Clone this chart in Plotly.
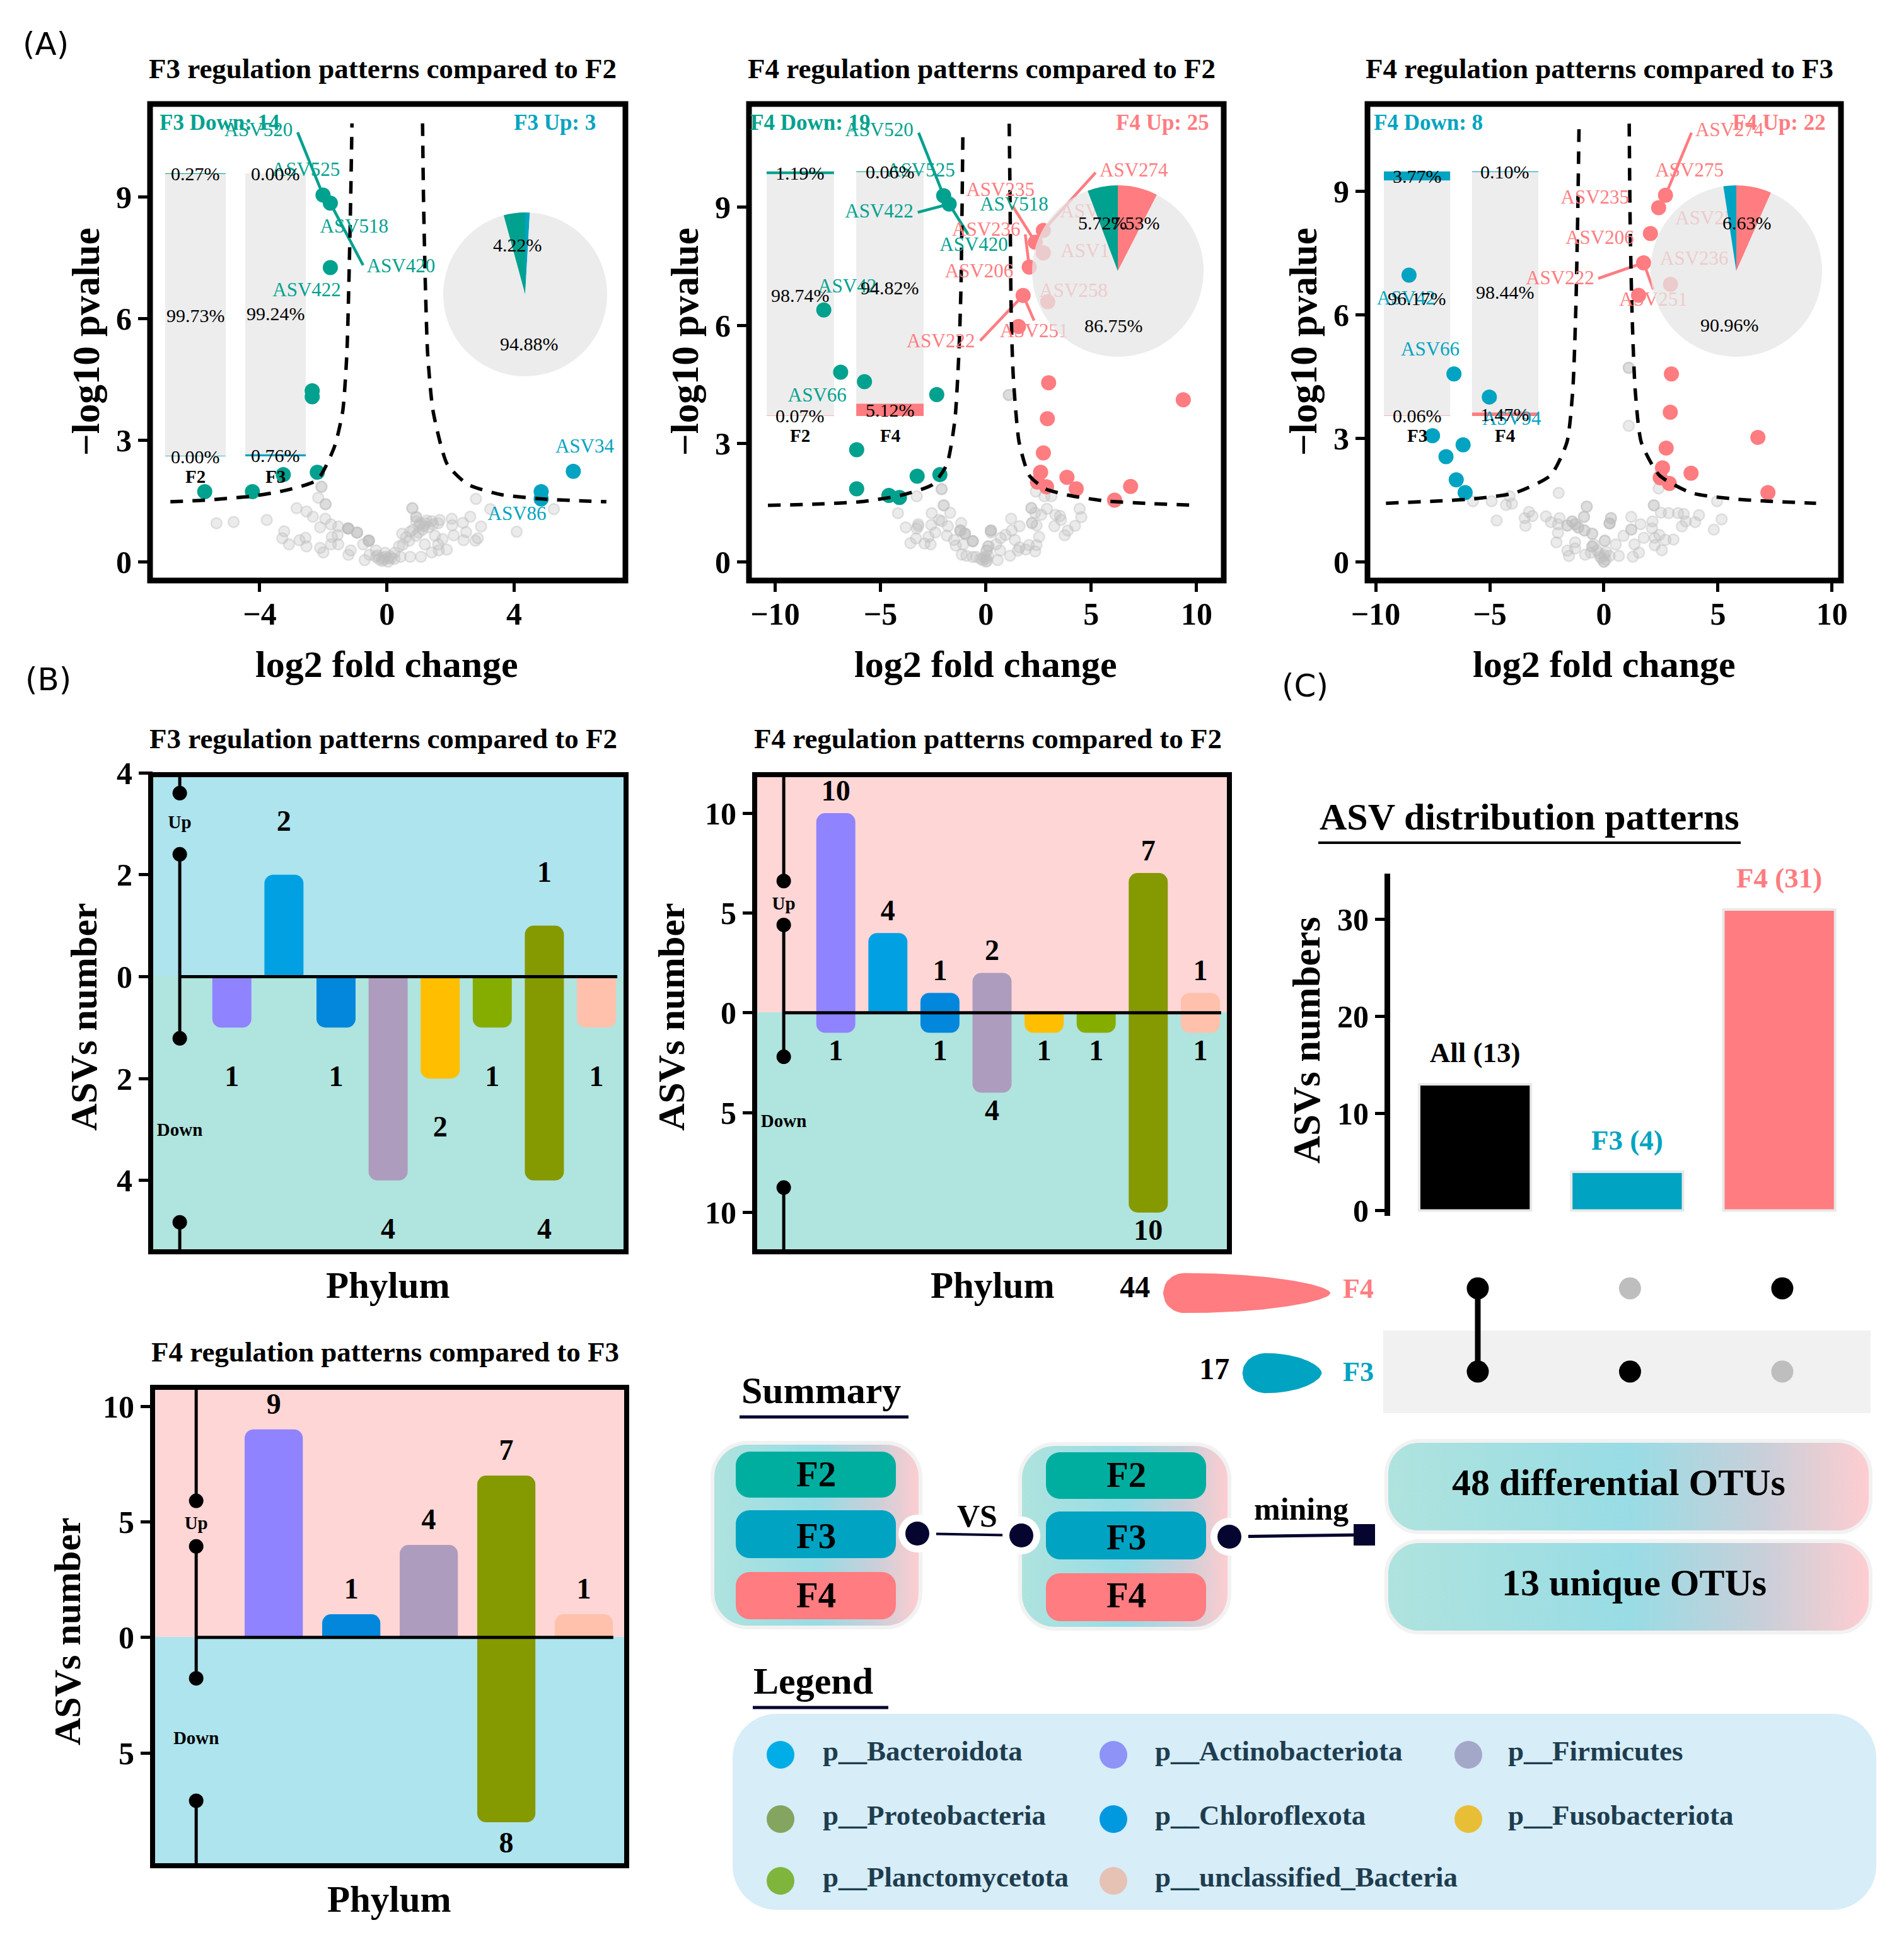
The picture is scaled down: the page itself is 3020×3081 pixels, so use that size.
"""Composite figure: volcano plots, phylum bars, ASV upset view and summary."""

import base64

import numpy as np
import plotly.graph_objects as go

W, H = 3020, 3081
SERIF = "Liberation Serif"
TEAL = "#00A18E"
BLUE = "#00A3C1"
PINK = "#FF7C80"

# ---- panel A: volcano points as (log2 fold change, -log10 pvalue) ----
F3F2_DOWN = [(-2.01, 9.05), (-1.78, 8.85), (-1.78, 7.26), (-2.35, 4.22), (-2.35, 4.07),
             (-3.26, 2.15), (-2.19, 2.21), (-5.73, 1.73), (-4.23, 1.73)]
F3F2_UP = [(5.86, 2.23), (4.85, 1.73), (4.85, 1.55)]
F3F2_NS = [(-2.06, 1.85), (-2.06, 1.85), (-2.16, 1.58), (-1.93, 1.42), (-1.93, 1.42), (-2.84, 1.32), (-2.53, 1.24),
           (-2.33, 1.11), (-3.78, 1.03), (-4.82, 0.98), (-5.36, 0.95), (-1.94, 1.06), (-1.76, 0.92),
           (-1.53, 0.87), (-2.10, 0.85), (-3.23, 0.75), (-3.29, 0.58), (-3.08, 0.43), (-2.75, 0.53),
           (-2.56, 0.59), (-2.53, 0.38), (-1.73, 0.61), (-1.55, 0.66), (-1.76, 0.43), (-1.53, 0.43),
           (-2.10, 0.34), (-2.00, 0.23), (-1.21, 0.17), (-1.14, 0.28), (-0.75, 0.43),
           (-1.22, 0.82), (-1.22, 0.82), (-1.22, 0.82), (-1.22, 0.82), (-0.94, 0.72), (-0.94, 0.72), (-0.94, 0.72),
           (-0.57, 0.52), (-0.57, 0.52), (-0.57, 0.52), (-0.57, 0.52),
           (0.80, 1.32), (0.80, 1.32), (0.92, 1.10), (0.92, 1.10), (2.80, 1.55), (3.25, 1.30), (5.25, 1.30),
           (2.62, 1.11), (2.04, 1.06), (2.39, 0.96), (2.05, 0.90), (2.96, 0.87), (4.08, 0.74), (2.49, 0.73),
           (2.10, 0.65), (2.41, 0.53), (2.86, 0.58), (2.78, 0.52), (1.75, 0.56), (1.51, 0.64), (1.61, 0.43),
           (1.88, 0.30), (1.63, 0.28), (1.41, 0.23), (1.19, 0.43), (1.07, 0.12), (0.73, 0.12), (0.43, 0.12),
           (0.24, 0.22), (0.38, 0.38), (0.48, 0.69), (0.73, 0.74), (0.92, 0.64), (1.02, 0.90), (1.22, 0.95),
           (1.41, 1.00), (1.61, 0.95), (1.66, 1.03), (0.92, 1.00), (1.31, 0.85), (1.12, 0.79), (0.82, 0.79),
           (0.04, 0.00), (-0.16, 0.02), (-0.35, 0.12), (-0.55, 0.17), (-0.70, 0.04), (-0.35, 0.28),
           (-0.06, 0.22), (0.14, 0.09), (-0.06, 0.12), (0.24, 0.07), (-0.25, 0.06), (-0.10, 0.05), (0.05, 0.08),
           (-0.30, 0.16), (-0.16, 0.10), (0.10, 0.14), (1.05, 0.95), (1.25, 1.02), (1.45, 0.92), (1.15, 0.88),
           (1.00, 0.72), (0.60, 0.60), (0.70, 0.52), (0.50, 0.42)]

F4F2_DOWN = [(-2.00, 9.29), (-1.74, 9.08), (-7.69, 6.39), (-6.89, 4.81), (-5.76, 4.57), (-2.33, 4.24),
             (-6.13, 2.84), (-3.26, 2.17), (-2.18, 2.21), (-6.13, 1.85), (-4.60, 1.68), (-4.10, 1.63)]
F4F2_UP = [(2.73, 8.41), (2.35, 8.11), (2.73, 7.84), (2.06, 7.48), (1.77, 6.76), (2.94, 6.60), (1.55, 5.97),
           (2.98, 4.54), (2.92, 3.63), (2.73, 2.76), (2.60, 2.27), (2.45, 2.02), (2.88, 1.90), (3.85, 2.14),
           (4.29, 1.85), (6.11, 1.56), (6.87, 1.91), (9.37, 4.11)]
F4F2_NS = [(1.09, 4.23), (1.09, 4.23), (-2.10, 1.84), (-2.10, 1.84), (-3.28, 1.66), (-2.00, 1.43), (-2.00, 1.43), (-4.17, 1.23),
           (-2.57, 1.23), (-1.69, 1.24), (-3.80, 0.87), (-3.21, 0.95), (-3.21, 0.90), (-2.59, 0.93), (-2.10, 1.03),
           (-2.22, 1.06), (-1.17, 0.98), (-1.80, 0.90), (-3.28, 0.84), (-2.40, 0.74), (-2.72, 0.63),
           (-3.31, 0.59), (-3.58, 0.47), (-2.91, 0.46), (-2.62, 0.44), (-1.85, 0.66), (-1.51, 0.55),
           (-1.43, 0.41), (-1.07, 0.44), (-1.21, 0.79), (-1.21, 0.79), (-1.21, 0.79), (-0.99, 0.71), (-0.99, 0.71),
           (-0.99, 0.71), (-0.62, 0.52), (-0.62, 0.52), (-0.62, 0.52), (0.24, 0.79), (0.24, 0.79), (0.24, 0.79), (0.24, 0.74),
           (1.20, 1.09), (2.16, 1.36), (2.16, 1.36), (2.34, 1.24), (2.63, 1.19), (2.90, 1.34), (3.30, 1.19), (3.52, 1.16),
           (3.57, 1.06), (4.45, 1.34), (4.53, 1.13), (2.37, 1.78), (2.78, 1.66), (3.11, 1.66), (3.25, 0.90),
           (4.23, 0.91), (3.89, 0.79), (3.74, 0.67), (2.19, 0.98), (2.19, 0.98), (2.41, 0.92), (1.60, 0.90), (1.23, 0.79),
           (0.93, 0.68), (0.71, 0.60), (0.49, 0.44), (0.12, 0.39), (0.12, 0.39), (0.04, 0.28), (0.04, 0.28), (2.53, 0.63),
           (2.41, 0.42), (2.04, 0.42), (2.34, 0.26), (1.89, 0.31), (1.52, 0.28), (1.38, 0.55), (1.60, 0.36),
           (1.15, 0.15), (0.68, 0.28), (0.56, 0.04), (0.00, 0.00), (-0.25, 0.07), (-0.62, 0.12), (-0.92, 0.15),
           (-1.14, 0.18), (0.12, 0.15), (0.02, 0.08), (-0.08, 0.12), (0.06, 0.02), (-0.14, 0.04), (-0.45, 0.12)]

F4F3_DOWN = [(-8.54, 6.96), (-6.57, 4.56), (-5.02, 4.00), (-7.51, 3.06), (-6.17, 2.84), (-6.92, 2.55),
             (-6.47, 1.99), (-6.08, 1.68)]
F4F3_UP = [(2.70, 8.90), (2.40, 8.60), (2.04, 7.97), (1.74, 7.26), (2.92, 6.74), (1.52, 6.47), (2.96, 4.56),
           (2.91, 3.63), (6.75, 3.02), (2.73, 2.76), (2.57, 2.28), (3.82, 2.15), (2.47, 2.04), (2.87, 1.90),
           (7.19, 1.68)]
F4F3_NS = [(1.09, 4.71), (1.09, 4.71), (1.09, 3.30), (-1.98, 1.67), (-5.74, 1.47), (-4.92, 1.47), (-4.29, 1.38), (-4.03, 1.41),
           (-4.13, 1.59), (-4.70, 1.00), (-3.47, 1.06), (-3.28, 1.21), (-3.13, 1.11), (-3.44, 0.87),
           (-2.54, 1.10), (-2.32, 0.96), (-1.94, 1.06), (-2.01, 0.91), (-0.75, 1.34), (-0.75, 1.34), (-0.87, 1.09),
           (-0.87, 1.09), (-1.39, 0.98), (-1.39, 0.98), (-1.60, 0.88), (-1.60, 0.88), (-1.26, 0.91), (-1.26, 0.91),
           (-1.12, 0.83), (-1.12, 0.83), (-0.85, 0.76), (-0.85, 0.76), (-0.51, 0.68), (-0.51, 0.68), (-2.01, 0.70),
           (-2.08, 0.47), (-1.26, 0.47), (-1.60, 0.27), (-1.53, 0.14), (-1.26, 0.32), (-0.82, 0.17),
           (-0.51, 0.37), (-0.51, 0.37), (-0.44, 0.42), (-0.57, 0.22), (-0.30, 0.27), (0.04, 0.51), (0.04, 0.51),
           (0.31, 1.06), (0.31, 1.06), (0.25, 0.93), (0.25, 0.93), (0.25, 0.93), (0.00, 0.00), (0.00, 0.00), (-0.16, 0.12),
           (0.25, 0.14), (0.66, 0.14), (0.52, 0.42), (0.86, 0.63), (1.20, 0.78), (1.20, 0.78), (1.61, 0.91),
           (1.34, 0.42), (1.27, 0.12), (1.54, 0.22), (1.75, 0.58), (2.13, 0.98), (2.11, 0.81), (1.20, 1.09),
           (2.19, 1.37), (2.19, 1.37), (2.40, 1.78), (2.50, 1.19), (2.84, 1.18), (3.25, 1.18), (3.50, 1.16), (4.17, 1.13),
           (4.96, 1.47), (5.16, 1.03), (4.00, 0.96), (3.59, 0.98), (3.42, 0.86), (4.82, 0.78), (2.43, 0.65),
           (2.23, 0.58), (2.70, 0.53), (3.05, 0.54), (2.23, 0.40), (2.54, 0.28), (-0.10, 0.08), (0.08, 0.05),
           (-0.20, 0.20), (0.10, 0.24), (0.02, 0.16)]

# threshold curves
F3F2_LEFT = [(-6.81, 1.48), (-5.72, 1.52), (-4.23, 1.62), (-3.14, 1.77), (-2.19, 2.02), (-1.65, 2.84),
             (-1.39, 3.72), (-1.26, 5.14), (-1.20, 6.78), (-1.14, 8.96), (-1.10, 10.82)]
F3F2_RIGHT = [(1.12, 10.82), (1.15, 8.96), (1.21, 6.78), (1.28, 5.14), (1.45, 3.72), (1.90, 2.40), (2.54, 1.91),
              (3.57, 1.66), (4.86, 1.55), (5.90, 1.51), (6.90, 1.48)]
F4F2_LEFT = [(-10.34, 1.43), (-8.05, 1.46), (-5.95, 1.52), (-4.05, 1.68), (-2.52, 1.96), (-1.85, 2.47),
             (-1.47, 3.59), (-1.28, 5.28), (-1.18, 6.96), (-1.09, 10.84)]
F4F2_RIGHT = [(1.11, 11.12), (1.15, 9.21), (1.20, 6.40), (1.30, 4.72), (1.58, 3.03), (2.06, 2.19), (2.82, 1.85),
              (3.97, 1.68), (5.69, 1.54), (7.60, 1.48), (9.89, 1.43)]
F4F3_LEFT = [(-9.55, 1.42), (-7.08, 1.48), (-5.67, 1.53), (-3.91, 1.67), (-2.33, 2.10), (-1.62, 2.90),
             (-1.36, 4.19), (-1.23, 6.13), (-1.15, 8.28), (-1.09, 10.53)]
F4F3_RIGHT = [(1.11, 10.64), (1.15, 8.28), (1.23, 6.13), (1.37, 4.19), (1.64, 2.90), (2.43, 2.10), (3.84, 1.67),
              (5.60, 1.53), (7.19, 1.47), (9.30, 1.42)]

# repelled ASV labels and their leader segments
F3F2_DOWN_LABELS = [("ASV520", -4.04, 10.63), ("ASV525", -2.55, 9.64), ("ASV518", -1.03, 8.25),
                    ("ASV420", 0.44, 7.26), ("ASV422", -2.52, 6.67)]
F3F2_UP_LABELS = [("ASV34", 6.22, 2.81), ("ASV86", 4.09, 1.15)]
F3F2_DOWN_SEGS = [((-2.81, 10.60), (-2.01, 9.05)), ((-1.78, 8.85), (-0.75, 7.32))]
F3F2_UP_SEGS = []
F4F2_DOWN_LABELS = [("ASV520", -5.06, 10.93), ("ASV525", -3.09, 9.90), ("ASV422", -5.06, 8.87),
                    ("ASV518", 1.34, 9.04), ("ASV420", -0.57, 8.01), ("ASV42", -6.58, 6.96), ("ASV66", -8.00, 4.19)]
F4F2_UP_LABELS = [("ASV274", 7.02, 9.90), ("ASV235", 0.69, 9.41), ("ASV236", 0.02, 8.40), ("ASV206", -0.32, 7.35),
                  ("ASV275", 5.15, 8.87), ("ASV1", 4.71, 7.86), ("ASV258", 4.16, 6.85), ("ASV251", 2.29, 5.82),
                  ("ASV222", -2.14, 5.56)]
F4F2_DOWN_SEGS = [((-3.19, 10.89), (-2.00, 9.29)), ((-3.23, 8.87), (-1.74, 9.08)), ((-0.84, 8.31), (-1.74, 9.08))]
F4F2_UP_SEGS = [((5.21, 9.88), (2.73, 8.41)), ((1.26, 9.04), (2.35, 8.11)), ((1.87, 8.31), (2.06, 7.48)),
                ((-0.27, 5.61), (1.77, 6.76)), ((2.29, 6.12), (1.77, 6.76))]
F4F3_DOWN_LABELS = [("ASV42", -8.67, 6.37), ("ASV66", -7.61, 5.13), ("ASV94", -4.03, 3.44)]
F4F3_UP_LABELS = [("ASV274", 5.51, 10.46), ("ASV275", 3.75, 9.48), ("ASV235", -0.39, 8.81), ("ASV258", 4.63, 8.31),
                  ("ASV206", -0.18, 7.83), ("ASV236", 3.96, 7.33), ("ASV222", -1.92, 6.86), ("ASV251", 2.17, 6.34)]
F4F3_DOWN_SEGS = []
F4F3_UP_SEGS = [((3.84, 10.42), (2.70, 8.90)), ((-0.25, 6.88), (1.74, 7.26)), ((2.17, 6.61), (1.74, 7.26))]

# inset stacks: share at the bottom, middle and top of each bar (%)
F3F2_GROUPS = ["F2", "F3"]
F3F2_LOW = [0.00, 0.76]
F3F2_MID = [99.73, 99.24]
F3F2_TOP = [0.27, 0.00]
F4F2_GROUPS = ["F2", "F4"]
F4F2_LOW = [0.07, 5.12]
F4F2_MID = [98.74, 94.82]
F4F2_TOP = [1.19, 0.06]
F4F3_GROUPS = ["F3", "F4"]
F4F3_LOW = [0.06, 1.47]
F4F3_MID = [96.17, 98.44]
F4F3_TOP = [3.77, 0.10]

# inset pies, clockwise from twelve o'clock
F3F2_PIE = [0.90, 94.88, 4.22]
F4F2_PIE = [7.53, 86.75, 5.72]
F4F3_PIE = [6.63, 90.96, 2.41]

# ---- panel B: ASV counts per phylum ----
PHYLA_COLORS = {"Actinobacteriota": "#8F83FF", "Bacteroidota": "#00A0E3", "Chloroflexota": "#0387DC",
                "Firmicutes": "#AD9CBD", "Fusobacteriota": "#FFBE00", "Planctomycetota": "#85AD00",
                "Proteobacteria": "#859900", "unclassified_Bacteria": "#FFC1AB"}
B_PHYLA = ["Actinobacteriota", "Bacteroidota", "Chloroflexota", "Firmicutes", "Fusobacteriota",
           "Planctomycetota", "Proteobacteria", "unclassified_Bacteria"]
F3F2_COUNT_UP = [0, 2, 0, 0, 0, 0, 1, 0]
F3F2_COUNT_DOWN = [1, 0, 1, 4, 2, 1, 4, 1]
F4F2_COUNT_UP = [10, 4, 1, 2, 0, 0, 7, 1]
F4F2_COUNT_DOWN = [1, 0, 1, 4, 1, 1, 10, 1]
F4F3_PHYLA = ["Actinobacteriota", "Chloroflexota", "Firmicutes", "Proteobacteria", "unclassified_Bacteria"]
F4F3_COUNT_UP = [9, 1, 4, 7, 1]
F4F3_COUNT_DOWN = [0, 0, 0, 8, 0]

# ---- panel C: upset view ----
UPSET_NAMES = ["All", "F3", "F4"]
UPSET_COUNTS = [13, 4, 31]
UPSET_COLORS = ["#000000", BLUE, PINK]
SET_NAMES = ["F3", "F4"]
SET_SIZES = [17, 44]
SET_COLORS = [BLUE, PINK]
UPSET_MEMBERS = [[1, 1], [1, 0], [0, 1]]  # per column: in F3, in F4

LEGEND_COLUMNS = [
    [("p__Bacteroidota", "#00ADE6"), ("p__Proteobacteria", "#84A55F"), ("p__Planctomycetota", "#7FB53D")],
    [("p__Actinobacteriota", "#8E93F8"), ("p__Chloroflexota", "#0099E0"), ("p__unclassified_Bacteria", "#E6C2B5")],
    [("p__Firmicutes", "#A4A8C8"), ("p__Fusobacteriota", "#E9BE37")],
]

fig = go.Figure()
shapes, annotations, images = [], [], []


def px_x(x):
    return x / W


def px_y(y):
    return 1 - y / H


def note(x, y, text, size, color="black", bold=True, angle=0, family=SERIF):
    annotations.append(dict(
        xref="paper", yref="paper", x=px_x(x), y=px_y(y), text=text, showarrow=False,
        xanchor="center", yanchor="middle", textangle=angle,
        font=dict(family=family, size=size, color=color, weight=700 if bold else 400),
    ))


def axes(n, x0, x1, y0, y1, xrange, yrange, xkw=None, ykw=None):
    """Place axis pair n on the pixel box given, hidden unless told otherwise."""
    base = dict(showgrid=False, zeroline=False, showline=False, ticks="", showticklabels=False, automargin=False)
    fig.update_layout(**{
        f"xaxis{n}": {**base, "domain": [px_x(x0), px_x(x1)], "range": xrange, "anchor": f"y{n}", **(xkw or {})},
        f"yaxis{n}": {**base, "domain": [px_y(y1), px_y(y0)], "range": yrange, "anchor": f"x{n}", **(ykw or {})},
    })


def tick_style(**kw):
    return dict(ticks="outside", ticklen=22, tickwidth=5, tickcolor="black", showticklabels=True,
                tickfont=dict(family=SERIF, size=50, color="black", weight=700), **kw)


def frame(x0, x1, y0, y1, width=9):
    shapes.append(dict(type="rect", xref="paper", yref="paper", layer="above", x0=px_x(x0), x1=px_x(x1),
                       y0=px_y(y0), y1=px_y(y1), line=dict(color="black", width=width), fillcolor="rgba(0,0,0,0)"))


def band(x0, x1, y0, y1, color):
    shapes.append(dict(type="rect", xref="paper", yref="paper", layer="below", x0=px_x(x0), x1=px_x(x1),
                       y0=px_y(y0), y1=px_y(y1), line=dict(width=0), fillcolor=color))


def rule(x0, x1, y, color, width):
    shapes.append(dict(type="line", xref="paper", yref="paper", layer="above", x0=px_x(x0), x1=px_x(x1),
                       y0=px_y(y), y1=px_y(y), line=dict(color=color, width=width)))


def disc(x, y, r, color):
    shapes.append(dict(type="circle", xref="paper", yref="paper", layer="above", x0=px_x(x - r), x1=px_x(x + r),
                       y0=px_y(y - r), y1=px_y(y + r), line=dict(width=0), fillcolor=color))


def pill(x0, y0, x1, y1, radius, stops, border=None):
    """Rounded box with a horizontal gradient, embedded as an svg image."""
    w, h = x1 - x0, y1 - y0
    stop_tags = "".join(f'<stop offset="{o}" stop-color="{c}"/>' for o, c in stops)
    inset = 3 if border else 0
    stroke = f'stroke="{border}" stroke-width="6"' if border else ""
    svg = (f'<svg xmlns="http://www.w3.org/2000/svg" width="{w}" height="{h}" viewBox="0 0 {w} {h}">'
           f'<defs><linearGradient id="g" x1="0" x2="1" y1="0" y2="0">{stop_tags}</linearGradient></defs>'
           f'<rect x="{inset}" y="{inset}" width="{w - 2 * inset}" height="{h - 2 * inset}" rx="{radius}" '
           f'ry="{radius}" fill="url(#g)" {stroke}/></svg>')
    src = "data:image/svg+xml;base64," + base64.b64encode(svg.encode()).decode()
    images.append(dict(source=src, xref="paper", yref="paper", x=px_x(x0), y=px_y(y0), sizex=w / W, sizey=h / H,
                       xanchor="left", yanchor="top", sizing="stretch", layer="below"))


def volcano(n, box, xrange, yrange, ns, down, up, left, right, down_color, up_color,
            down_labels, up_labels, down_segs, up_segs, xticks):
    x0, x1, y0, y1 = box
    axes(n, x0, x1, y0, y1, xrange, yrange,
         tick_style(tickvals=xticks, ticklabelstandoff=-8), tick_style(tickvals=[0, 3, 6, 9]))
    ref = dict(xaxis=f"x{n}", yaxis=f"y{n}", showlegend=False, hoverinfo="skip")
    fig.add_trace(go.Scatter(x=[p[0] for p in ns], y=[p[1] for p in ns], mode="markers",
                             marker=dict(size=17, color="rgba(190,190,190,0.3)",
                                         line=dict(width=2.5, color="rgba(190,190,190,0.42)")), **ref))
    for segs, color in ((down_segs, down_color), (up_segs, up_color)):
        for a, b in segs:
            fig.add_trace(go.Scatter(x=[a[0], b[0]], y=[a[1], b[1]], mode="lines",
                                     line=dict(color=color, width=4.5), **ref))
    for pts, color in ((down, down_color), (up, up_color)):
        fig.add_trace(go.Scatter(x=[p[0] for p in pts], y=[p[1] for p in pts], mode="markers",
                                 marker=dict(size=24, color=color), **ref))
    for curve in (left, right):
        fig.add_trace(go.Scatter(x=[p[0] for p in curve], y=[p[1] for p in curve], mode="lines",
                                 line=dict(color="black", width=5.5, dash="20px,15px", shape="spline", smoothing=0.6),
                                 **ref))
    for labels, color in ((down_labels, down_color), (up_labels, up_color)):
        fig.add_trace(go.Scatter(x=[p[1] for p in labels], y=[p[2] for p in labels], text=[p[0] for p in labels],
                                 mode="text", cliponaxis=False, textfont=dict(family=SERIF, size=31, color=color), **ref))
    frame(x0 - 4, x1 + 4, y0 - 5, y1 + 5)


def inset(n, bars, y0, y1, groups, low, mid, top, low_color, top_color, name_y):
    """Two stacked 100% bars; bars holds (left, right) pixel edges of both."""
    (l0, r0), (l1, r1) = bars
    half = (r0 - l0) / (l1 - l0) / 2
    axes(n, l0, r1, y0, y1, [-half, 1 + half], [0, 100])
    ref = dict(xaxis=f"x{n}", yaxis=f"y{n}", showlegend=False, hoverinfo="skip")
    for values, color in ((low, low_color), (mid, "#EDEDED"), (top, top_color)):
        # zero shares still show as a hairline in the picture
        fig.add_trace(go.Bar(x=[0, 1], y=[max(v, 0.15) for v in values], width=2 * half,
                             marker=dict(color=color, line=dict(width=0)), **ref))
    for i in range(2):
        spots = ((low[i], low[i] / 2), (mid[i], low[i] + mid[i] / 2), (top[i], 100 - top[i] / 2))
        for value, y in spots:
            annotations.append(dict(xref=f"x{n}", yref=f"y{n}", x=i, y=y, text=f"{value:.2f}%", showarrow=False,
                                    xanchor="center", yanchor="middle",
                                    font=dict(family=SERIF, size=30, color="black")))
        annotations.append(dict(xref=f"x{n}", yref="paper", x=i, y=px_y(name_y), text=groups[i], showarrow=False,
                                xanchor="center", yanchor="middle",
                                font=dict(family=SERIF, size=29, color="black", weight=700)))


def inset_pie(cx, cy, r, values, colors, label_spots):
    fig.add_trace(go.Pie(values=values, sort=False, direction="clockwise", rotation=0, textinfo="none",
                         hoverinfo="skip", showlegend=False,
                         marker=dict(colors=colors, line=dict(width=0)),
                         domain=dict(x=[px_x(cx - r), px_x(cx + r)], y=[px_y(cy + r), px_y(cy - r)])))
    for value, (x, y) in label_spots:
        note(x, y, f"{value:.2f}%", 30, bold=False)


def phylum_bars(n, box, y_top_px, xrange, yrange, phyla, ups, downs, ticks, marks, up_y, down_y, top_color,
                bottom_color, zero_px, zero_end):
    x0, x1, y0, y1 = box
    axes(n, x0, x1, y_top_px, y1, xrange, yrange, None,
         tick_style(tickvals=[-t for t in ticks if t > 0] + [0] + [t for t in ticks if t > 0],
                    ticktext=[str(t) for t in ticks if t > 0] + ["0"] + [str(t) for t in ticks if t > 0]))
    ref = dict(xaxis=f"x{n}", yaxis=f"y{n}", showlegend=False, hoverinfo="skip")
    band(x0, x1, y0, zero_px, top_color)
    band(x0, x1, zero_px, y1, bottom_color)
    pos = list(range(1, len(phyla) + 1))
    colors = [PHYLA_COLORS[p] for p in phyla]
    fig.add_trace(go.Bar(x=pos, y=ups, width=0.75, marker=dict(color=colors, cornerradius=14, line=dict(width=0)),
                         **ref))
    fig.add_trace(go.Bar(x=pos, y=[-v for v in downs], width=0.75,
                         marker=dict(color=colors, cornerradius=14, line=dict(width=0)), **ref))
    d1, d2, d3, d4 = marks
    fig.add_trace(go.Scatter(x=[0, 0, None, 0, 0, None, 0, 0],
                             y=[yrange[1], d1, None, d2, d3, None, d4, yrange[0]], mode="lines",
                             line=dict(color="black", width=5), **ref))
    fig.add_trace(go.Scatter(x=[0, 0, 0, 0], y=list(marks), mode="markers",
                             marker=dict(size=23, color="black"), **ref))
    fig.add_trace(go.Scatter(x=[0, zero_end], y=[0, 0], mode="lines", line=dict(color="black", width=5), **ref))
    fig.add_trace(go.Scatter(x=[0, 0], y=[up_y, down_y], text=["Up", "Down"], mode="text", cliponaxis=False,
                             textfont=dict(family=SERIF, size=29, color="black", weight=700), **ref))
    tx = [p for p, v in zip(pos, ups) if v > 0] + [p for p, v in zip(pos, downs) if v > 0]
    ty = [v + 1 for v in ups if v > 0] + [-(v + 1) for v in downs if v > 0]
    tt = [str(v) for v in ups if v > 0] + [str(v) for v in downs if v > 0]
    fig.add_trace(go.Scatter(x=tx, y=ty, text=tt, mode="text", cliponaxis=False,
                             textfont=dict(family=SERIF, size=46, color="black", weight=700), **ref))
    frame(x0 - 4, x1 + 4, y0 - 4, y1 + 4, width=8)


def teardrop(value, tip, row, head):
    """Outline of a set-size bar: rounded head at value, tapering past zero to -tip."""
    u = np.linspace(0, 1, 80)
    h = np.where(u < head, np.sqrt(np.clip(1 - (1 - u / head) ** 2, 0, 1)),
                 np.clip(1 - ((u - head) / (1 - head)) ** 2, 0, 1) ** 0.6)
    x = value - u * (value + tip)
    return np.concatenate([x, x[::-1]]), np.concatenate([row + 0.25 * h, (row - 0.25 * h)[::-1]])


# ---- panel A ----
inset(2, ((262, 358), (389, 485)), 275, 724, F3F2_GROUPS, F3F2_LOW, F3F2_MID, F3F2_TOP, BLUE, TEAL, 756)
inset(3, ((1216, 1322), (1357, 1465)), 272, 660, F4F2_GROUPS, F4F2_LOW, F4F2_MID, F4F2_TOP, PINK, TEAL, 691)
inset(4, ((2195, 2301), (2336, 2440)), 272, 660, F4F3_GROUPS, F4F3_LOW, F4F3_MID, F4F3_TOP, PINK, BLUE, 691)

volcano(5, (242, 988, 170, 916), [-7.37, 7.42], [-0.386, 11.22], F3F2_NS, F3F2_DOWN, F3F2_UP, F3F2_LEFT, F3F2_RIGHT,
        TEAL, BLUE, F3F2_DOWN_LABELS, F3F2_UP_LABELS, F3F2_DOWN_SEGS, F3F2_UP_SEGS, [-4, 0, 4])
volcano(6, (1192, 1937, 170, 916), [-11.12, 11.17], [-0.40, 11.54], F4F2_NS, F4F2_DOWN, F4F2_UP, F4F2_LEFT, F4F2_RIGHT,
        TEAL, PINK, F4F2_DOWN_LABELS, F4F2_UP_LABELS, F4F2_DOWN_SEGS, F4F2_UP_SEGS, [-10, -5, 0, 5, 10])
volcano(7, (2173, 2916, 170, 916), [-10.25, 10.28], [-0.38, 11.04], F4F3_NS, F4F3_DOWN, F4F3_UP, F4F3_LEFT, F4F3_RIGHT,
        BLUE, PINK, F4F3_DOWN_LABELS, F4F3_UP_LABELS, F4F3_DOWN_SEGS, F4F3_UP_SEGS, [-10, -5, 0, 5, 10])

PIE_GREY = "rgba(230,230,230,0.75)"
inset_pie(833, 467, 130, F3F2_PIE, [BLUE, PIE_GREY, TEAL], [(F3F2_PIE[2], (821, 388)), (F3F2_PIE[1], (839, 545))])
inset_pie(1773, 430, 136, F4F2_PIE, [PINK, PIE_GREY, TEAL],
          [(F4F2_PIE[2], (1749, 353)), (F4F2_PIE[0], (1801, 353)), (F4F2_PIE[1], (1766, 517))])
inset_pie(2754, 430, 136, F4F3_PIE, [PINK, PIE_GREY, BLUE], [(F4F3_PIE[0], (2771, 353)), (F4F3_PIE[1], (2743, 516))])

for x, text in ((607, "F3 regulation patterns compared to F2"), (1557, "F4 regulation patterns compared to F2"),
                (2537, "F4 regulation patterns compared to F3")):
    note(x, 109, text, 45)
for x in (613, 1563, 2544):
    note(x, 1054, "log2 fold change", 60)
for x in (137, 1087, 2068):
    note(x, 542, "\u2212log10 pvalue", 61, angle=-90)
for x, text, color in ((348, "F3 Down: 14", TEAL), (880, "F3 Up: 3", BLUE), (1285, "F4 Down: 19", TEAL),
                       (1844, "F4 Up: 25", PINK), (2265, "F4 Down: 8", BLUE), (2822, "F4 Up: 22", PINK)):
    note(x, 194, text, 35, color=color)

# ---- panel B ----
PALE_BLUE, PALE_TEAL, PALE_PINK = "#AEE4EE", "#B0E4DE", "#FFD6D6"
phylum_bars(8, (243, 989, 1233, 1982), 1226, [-0.51, 8.52], [-5.35, 4.0], B_PHYLA, F3F2_COUNT_UP, F3F2_COUNT_DOWN,
            [2, 4], (3.6, 2.4, -1.21, -4.82), 3.0, -3.03, PALE_BLUE, PALE_TEAL, 1549, 8.4)
phylum_bars(9, (1201, 1946, 1233, 1982), 1233, [-0.51, 8.51], [-11.84, 11.8], B_PHYLA, F4F2_COUNT_UP, F4F2_COUNT_DOWN,
            [5, 10], (6.6, 4.4, -2.2, -8.75), 5.4, -5.5, PALE_PINK, PALE_TEAL, 1606, 8.4)
phylum_bars(10, (246, 990, 2205, 2956), 2205, [-0.53, 5.52], [-9.77, 10.71], F4F3_PHYLA, F4F3_COUNT_UP, F4F3_COUNT_DOWN,
            [5, 10], (5.91, 3.94, -1.77, -7.07), 4.89, -4.43, PALE_PINK, PALE_BLUE, 2597, 5.38)

note(608, 1172, "F3 regulation patterns compared to F2", 45)
note(1567, 1172, "F4 regulation patterns compared to F2", 45)
note(611, 2145, "F4 regulation patterns compared to F3", 45)
note(615, 2039, "Phylum", 59)
note(1574, 2039, "Phylum", 59)
note(617, 3013, "Phylum", 59)
note(133, 1613, "ASVs number", 60, angle=-90)
note(1065, 1613, "ASVs number", 60, angle=-90)
note(107, 2588, "ASVs number", 60, angle=-90)

# ---- panel C: bars ----
axes(11, 2205, 2950, 1386, 1929, [-0.558, 2.53], [-0.55, 34.7], None,
     dict(tick_style(tickvals=[0, 10, 20, 30]), ticklen=15, showline=True, linewidth=9, linecolor="black"))
ref_c = dict(xaxis="x11", yaxis="y11", showlegend=False, hoverinfo="skip")
fig.add_trace(go.Bar(x=[0, 1, 2], y=UPSET_COUNTS, width=0.735,
                     marker=dict(color=UPSET_COLORS, line=dict(color="#E8E8E8", width=4)), **ref_c))
fig.add_trace(go.Scatter(x=[0, 1, 2], y=[v + 3 for v in UPSET_COUNTS], mode="text", cliponaxis=False,
                         text=[f"{n} ({v})" for n, v in zip(UPSET_NAMES, UPSET_COUNTS)],
                         textfont=dict(family=SERIF, size=45, color=UPSET_COLORS, weight=700), **ref_c))
note(2426, 1296, "ASV distribution patterns", 60)
rule(2091, 2761, 1337, "black", 4)
note(2072, 1650, "ASVs numbers", 61, angle=-90)

# ---- panel C: set sizes ----
axes(12, 1780, 2120, 1978, 2242, [57.85, -15], [-0.5, 1.578])
ref_s = dict(xaxis="x12", yaxis="y12", showlegend=False, hoverinfo="skip")
for row, (size, color, tip, head) in enumerate(zip(SET_SIZES, SET_COLORS, (10, 13), (0.3, 0.13))):
    tx, ty = teardrop(size, tip, row, head)
    fig.add_trace(go.Scatter(x=tx, y=ty, mode="lines", fill="toself", fillcolor=color, line=dict(width=0), **ref_s))
fig.add_trace(go.Scatter(x=[v + 9.5 for v in SET_SIZES], y=[0.02, 1.04], text=[str(v) for v in SET_SIZES], mode="text",
                         cliponaxis=False, textfont=dict(family=SERIF, size=48, color="black", weight=700), **ref_s))
note(2154, 2176, SET_NAMES[0], 44, color=BLUE)
note(2154, 2044, SET_NAMES[1], 44, color=PINK)

# ---- panel C: membership matrix ----
band(2194, 2967, 2111, 2242, "#F1F1F1")
axes(13, 2194, 2967, 1978, 2242, [-0.621, 2.58], [-0.5, 1.5])
ref_m = dict(xaxis="x13", yaxis="y13", showlegend=False, hoverinfo="skip")
fig.add_trace(go.Scatter(x=[0, 0], y=[0, 1], mode="lines", line=dict(color="black", width=9), **ref_m))
mx, my, mc = [], [], []
for col, members in enumerate(UPSET_MEMBERS):
    for row, member in enumerate(members):
        mx.append(col)
        my.append(row)
        mc.append("black" if member else "#BEBEBE")
fig.add_trace(go.Scatter(x=mx, y=my, mode="markers", marker=dict(size=35, color=mc), **ref_m))

# ---- summary and legend ----
NAVY = "#05052F"
FLOW = [(0, "#AFE3DE"), (0.5, "#98DCE5"), (0.78, "#C9CFD9"), (1, "#FFCDD0")]
note(1302, 2206, "Summary", 60)
rule(1173, 1441, 2248, NAVY, 5)
pill(1127, 2286, 1463, 2585, 55, FLOW, border="#F2F2F2")
pill(1615, 2288, 1953, 2587, 55, FLOW, border="#F2F2F2")
for x0, x1, tx, rows in ((1167, 1421, 1294, ((2303, 2376, 2338), (2396, 2472, 2436), (2494, 2569, 2530))),
                         (1659, 1913, 1786, ((2304, 2378, 2339), (2398, 2474, 2438), (2496, 2572, 2530)))):
    for (y0, y1, ty), name, color in zip(rows, ("F2", "F3", "F4"), ("#00AEA0", BLUE, PINK)):
        pill(x0, y0, x1, y1, 22, [(0, color), (1, color)])
        note(tx, ty, name, 57)
shapes.append(dict(type="line", xref="paper", yref="paper", layer="above", x0=px_x(1455), x1=px_x(1620),
                   y0=px_y(2433), y1=px_y(2436), line=dict(color=NAVY, width=4)))
shapes.append(dict(type="line", xref="paper", yref="paper", layer="above", x0=px_x(1950), x1=px_x(2164),
                   y0=px_y(2438), y1=px_y(2435), line=dict(color=NAVY, width=5)))
for x, y in ((1455, 2433), (1620, 2436), (1950, 2438)):
    disc(x, y, 30, "white")
    disc(x, y, 19, NAVY)
shapes.append(dict(type="rect", xref="paper", yref="paper", layer="above", x0=px_x(2147), x1=px_x(2181),
                   y0=px_y(2418), y1=px_y(2452), line=dict(width=0), fillcolor=NAVY))
note(1550, 2405, "VS", 50)
note(2064, 2394, "mining", 50)
pill(2196, 2283, 2970, 2434, 52, FLOW, border="#F2F2F2")
pill(2196, 2442, 2970, 2593, 52, FLOW, border="#F2F2F2")
note(2567, 2352, "48 differential OTUs", 60)
note(2592, 2511, "13 unique OTUs", 60)

note(1290, 2667, "Legend", 60)
rule(1194, 1409, 2709, NAVY, 5)
pill(1162, 2719, 2976, 3030, 70, [(0, "#D7EDF8"), (1, "#D7EDF8")])
LEGEND_ROWS = (2784, 2886, 2984)
for (dot_x, text_x), column in zip(((1238, 1303), (1766, 1830), (2329, 2390)), LEGEND_COLUMNS):
    for y, (name, color) in zip(LEGEND_ROWS, column):
        disc(dot_x, y, 22, color)
        annotations.append(dict(xref="paper", yref="paper", x=px_x(text_x), y=px_y(y - 6), text=name, showarrow=False,
                                xanchor="left", yanchor="middle",
                                font=dict(family=SERIF, size=45, color="#1E3D4F", weight=700)))

note(72, 70, "(A)", 50, bold=False, family="DejaVu Sans")
note(76, 1078, "(B)", 50, bold=False, family="DejaVu Sans")
note(2070, 1088, "(C)", 50, bold=False, family="DejaVu Sans")

fig.update_layout(
    width=W, height=H, autosize=False, margin=dict(l=0, r=0, t=0, b=0, pad=0),
    paper_bgcolor="white", plot_bgcolor="rgba(0,0,0,0)", barmode="relative", showlegend=False,
    shapes=shapes, annotations=annotations, images=images, font=dict(family=SERIF),
)
# the page's default body margin would push the figure 8px off the window
fig.write_html("out.html", config=dict(displayModeBar=False), post_script="document.body.style.margin='0';")
